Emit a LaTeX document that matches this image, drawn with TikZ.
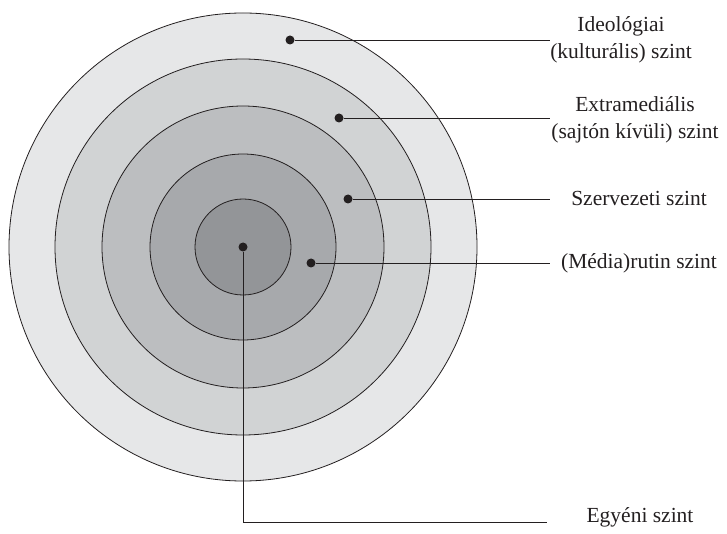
\documentclass[tikz,border=0pt]{standalone}
\usepackage{fontspec}
\setmainfont{Liberation Serif}
\usetikzlibrary{positioning}

\definecolor{ringA}{HTML}{E6E7E8}
\definecolor{ringB}{HTML}{D1D3D4}
\definecolor{ringC}{HTML}{BCBEC0}
\definecolor{ringD}{HTML}{A7A9AC}
\definecolor{ringE}{HTML}{939598}
\definecolor{inkgray}{HTML}{231F20}

\begin{document}
\begin{tikzpicture}[x=1pt,y=-1pt]
    \tikzstyle{every node}=[font={\fontsize{21.5}{27}\selectfont}, text=inkgray]
    \tikzstyle{dot}=[circle, fill=inkgray, inner sep=0pt, minimum size=9pt]
    \tikzstyle{leader}=[draw=inkgray, line width=0.9pt]
    \tikzstyle{levellabel}=[align=center, inner sep=0pt]
    \useasboundingbox (0,0) rectangle (727,534);
    % concentric levels
    \foreach \r/\c in {234/ringA, 188/ringB, 141/ringC, 93/ringD, 48/ringE}
        \draw[fill=\c, draw=inkgray, line width=0.8pt] (243,247) circle (\r);
    % dots
    \node[dot] (ideo) at (290,40) {};
    \node[dot] (extra) at (339,118) {};
    \node[dot] (szerv) at (348,199) {};
    \node[dot] (rutin) at (311,263) {};
    \node[dot] (egyen) at (243,247) {};
    % line ends
    \coordinate (ideo-end) at (550,40);
    \coordinate (extra-end) at (550,118);
    \coordinate (szerv-end) at (550,199);
    \coordinate (rutin-end) at (550,263);
    \coordinate (egyen-corner) at (243,522);
    \coordinate (egyen-end) at (547,522);
    % labels
    \node[levellabel] (ideo-label) at (621,40) {Ideológiai\\(kulturális) szint};
    \node[levellabel] (extra-label) at (635,120) {Extramediális\\(sajtón kívüli) szint};
    \node[levellabel] (szerv-label) at (639,198) {Szervezeti szint};
    \node[levellabel] (rutin-label) at (639,263) {(Média)rutin szint};
    \node[levellabel] (egyen-label) at (640,517) {Egyéni szint};
    % leaders
    \draw[leader] (ideo) -- (ideo-end);
    \draw[leader] (extra) -- (extra-end);
    \draw[leader] (szerv) -- (szerv-end);
    \draw[leader] (rutin) -- (rutin-end);
    \draw[leader] (egyen) -- (egyen-corner) -- (egyen-end);
\end{tikzpicture}
\end{document}
